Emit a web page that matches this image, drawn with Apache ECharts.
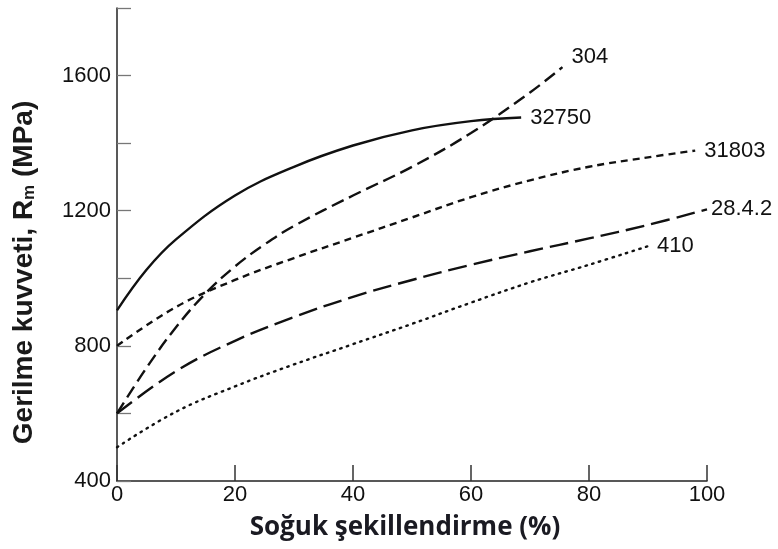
<!DOCTYPE html>
<html>
<head>
<meta charset="utf-8">
<script src="https://cdn.jsdelivr.net/npm/echarts@6/dist/echarts.min.js"></script>
<style>
  html, body { margin: 0; padding: 0; background: #fff; }
  #chart { width: 778px; height: 549px; }
</style>
</head>
<body>
<div id="chart"></div>
<script>
// soğuk şekillendirme oranı (%) ve çekme dayanımı (MPa), grafikten okunan noktalar
const x32750 = [0, 5, 10, 20, 30, 40, 50, 60, 68.5];
const y32750 = [905, 1025, 1115, 1245, 1330, 1393, 1438, 1465, 1476];

const x304 = [0, 5, 10, 15, 20, 25, 30, 40, 50, 60, 70, 75.5];
const y304 = [600, 735, 855, 955, 1035, 1100, 1155, 1245, 1330, 1430, 1550, 1625];

const x31803 = [0, 10, 20, 30, 40, 50, 60, 70, 80, 90, 98];
const y31803 = [800, 915, 995, 1060, 1120, 1180, 1240, 1290, 1330, 1358, 1378];

const x2842 = [0, 10, 20, 30, 40, 50, 60, 70, 80, 90, 100];
const y2842 = [600, 725, 815, 885, 945, 995, 1040, 1080, 1118, 1158, 1204];

const x410 = [0, 10, 20, 30, 40, 50, 60, 70, 80, 90];
const y410 = [500, 605, 680, 745, 805, 865, 928, 988, 1040, 1095];

const yLabels = [400, 800, 1200, 1600];

function pairs(xs, ys) {
  return xs.map((v, i) => [v, ys[i]]);
}

const chart = echarts.init(document.getElementById('chart'));
const numFont = 'Liberation Sans, Arial, sans-serif';

// her eğri için çizgi stili ve uç etiketi
function curve(name, xs, ys, dash, cap, offset) {
  return {
    name: name,
    type: 'line',
    smooth: 0.4,
    symbol: 'none',
    data: pairs(xs, ys),
    lineStyle: { color: '#111', width: 2.4, type: dash, cap: cap || 'butt' },
    endLabel: {
      show: true,
      formatter: name,
      color: '#111',
      fontFamily: numFont,
      fontSize: 22,
      distance: 9,
      offset: offset || [0, 0]
    },
    z: 3
  };
}

chart.setOption({
  animation: false,
  grid: { left: 117, right: 71, top: 8, bottom: 68 },
  xAxis: {
    type: 'value',
    min: 0,
    max: 100,
    interval: 20,
    name: 'Soğuk şekillendirme (%)',
    nameLocation: 'middle',
    nameGap: 34,
    nameTextStyle: { fontFamily: 'Open Sans', fontWeight: 'bold', fontSize: 26, color: '#1a1a22', padding: [0, 14, 0, 0] },
    axisLine: { lineStyle: { color: '#222', width: 1.5 } },
    axisTick: { inside: true, length: 16, lineStyle: { color: '#333', width: 1.5 } },
    axisLabel: { color: '#111', fontFamily: numFont, fontSize: 22, margin: 3 },
    splitLine: { show: false }
  },
  yAxis: {
    type: 'value',
    min: 400,
    max: 1800,
    interval: 200,
    name: 'Gerilme kuvveti, R{sub|m} (MPa)',
    nameLocation: 'middle',
    nameGap: 79,
    nameTextStyle: {
      fontFamily: numFont, fontWeight: 'bold', fontSize: 28, color: '#1a1a1a',
      padding: [0, 56, 0, 0],
      rich: { sub: { fontFamily: numFont, fontWeight: 'bold', fontSize: 17, color: '#1a1a1a', padding: [10, 0, 0, 0] } }
    },
    axisLine: { show: true, lineStyle: { color: '#222', width: 1.5 } },
    axisTick: { inside: true, length: 14, lineStyle: { color: '#777', width: 1.3 } },
    axisLabel: {
      color: '#111', fontFamily: numFont, fontSize: 22, margin: 6,
      formatter: v => yLabels.indexOf(v) >= 0 ? String(v) : ''
    },
    splitLine: { show: false }
  },
  series: [
    curve('32750', x32750, y32750, 'solid'),
    curve('304', x304, y304, [13, 6], null, [0, -10]),
    curve('31803', x31803, y31803, [7, 5]),
    curve('28.4.2', x2842, y2842, [19, 7], null, [-5, 0]),
    curve('410', x410, y410, [1.5, 5.5], 'round')
  ]
});
</script>
</body>
</html>
